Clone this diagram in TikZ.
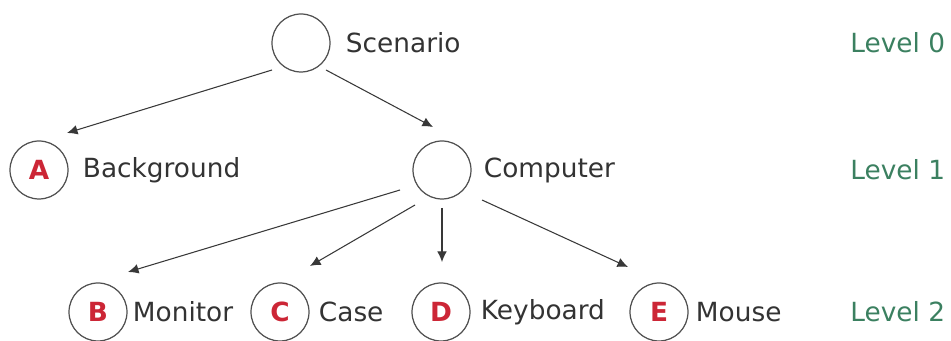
\documentclass[tikz,border=0pt]{standalone}
\usepackage{fontspec}
\setmainfont{DejaVu Sans}
\usepackage{xcolor}
\usepackage{tikz}
\usetikzlibrary{positioning,calc,arrows.meta}
\definecolor{SCRed}{HTML}{CC2636}
\definecolor{SCGreen}{HTML}{3B8060}
\definecolor{SCLine}{HTML}{505050}
\definecolor{SCText}{HTML}{333333}

\begin{document}
\begin{tikzpicture}[x=0.02cm,y=0.02cm,
  font=\fontsize{15}{18}\selectfont,
  part/.style={circle,draw=SCLine,line width=0.7pt,minimum size=1.16cm,inner sep=0pt,
    text=SCRed,font=\fontsize{15}{18}\selectfont\bfseries},
  lbl/.style={anchor=west,inner sep=0pt,text=SCText},
  lvl/.style={anchor=west,inner sep=0pt,text=SCGreen},
  arr/.style={draw=SCLine!70!black,line width=0.6pt,-{Latex[length=6pt,width=5.5pt]}}]
\path[use as bounding box] (0,0) rectangle (951,341);
% level 0
\node[part] (scen) at (301,298) {};
\node[lbl,right=15 of scen] (scenlbl) {Scenario};
% level 1
\node[part] (bgA) at (39,171) {A};
\node[lbl,right=14 of bgA] (bglbl) {Background};
\node[part] (comp) at (442,171) {};
\node[lbl,right=12 of comp] (complbl) {Computer};
% level 2
\node[part] (monB) at (98,29) {B};
\node[lbl,right=5 of monB] (monlbl) {Monitor};
\node[part] (caseC) at (280,29) {C};
\node[lbl,right=9 of caseC] (caselbl) {Case};
\node[part] (keyD) at (441,29) {D};
\node[lbl,right=10 of keyD] (keylbl) {Keyboard};
\node[part] (mouseE) at (659,29) {E};
\node[lbl,right=7 of mouseE] (mouselbl) {Mouse};
% levels
\node[lvl] (lvl0) at (850,298) {Level 0};
\node[lvl] (lvl1) at (850,171) {Level 1};
\node[lvl] (lvl2) at (850,29) {Level 2};
% arrows
\draw[arr] ($(scen)+(-29,-27)$) -- ($(bgA)+(28,37)$);
\draw[arr] ($(scen)+(25,-27)$) -- ($(comp)+(-9,43)$);
\draw[arr] ($(comp)+(-42,-20)$) -- ($(monB)+(30,40)$);
\draw[arr] ($(comp)+(-27,-35)$) -- ($(caseC)+(30,46)$);
\draw[arr] ($(comp)+(0,-38)$) -- ($(keyD)+(1,50)$);
\draw[arr] ($(comp)+(40,-30)$) -- ($(mouseE)+(-31,45)$);
\end{tikzpicture}
\end{document}
